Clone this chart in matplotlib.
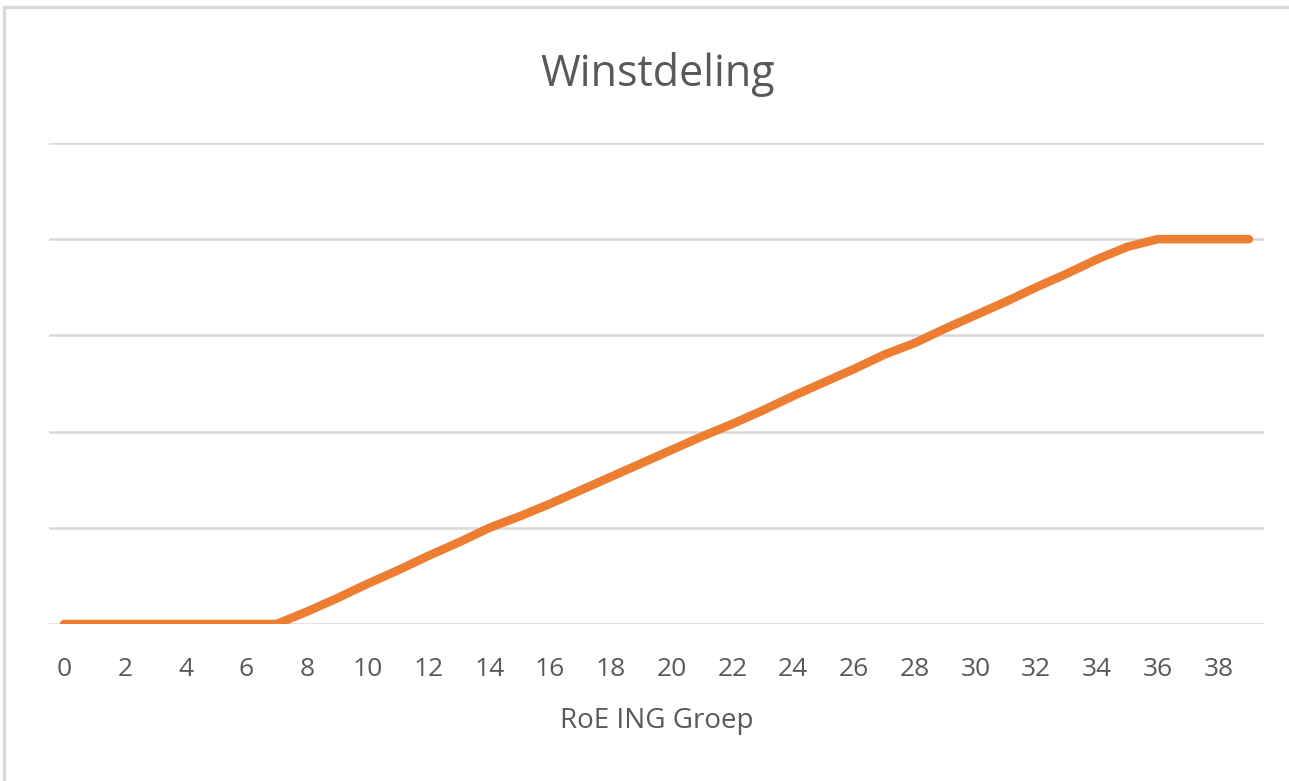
import matplotlib.pyplot as plt
from matplotlib.lines import Line2D

# RoE ING Groep (categories) and winstdeling values
roe = list(range(0, 40))
winst = [0, 0, 0, 0, 0, 0, 0, 0,
         0.13, 0.27, 0.42, 0.56, 0.71, 0.85, 1.00,
         1.12, 1.25, 1.39, 1.53, 1.67, 1.81, 1.95, 2.08,
         2.22, 2.37, 2.51, 2.65, 2.80, 2.92, 3.07, 3.21,
         3.35, 3.50, 3.64, 3.79, 3.92, 4.00, 4.00, 4.00, 4.00]
tick_labels = [str(v) for v in roe[::2]]

plt.rcParams['font.family'] = ['Open Sans', 'DejaVu Sans']
grey = '#595959'

fig = plt.figure(figsize=(12.89, 7.81), dpi=100)
ax = fig.add_axes([0.038, 0.201, 0.9426, 0.616])

ax.plot(roe, winst, color='#ED7D31', linewidth=6.2, solid_capstyle='round',
        solid_joinstyle='round', zorder=3)

ax.set_xlim(-0.5, 39.5)
ax.set_ylim(0, 5)
ax.set_yticks(range(0, 6))
ax.set_yticklabels([])
ax.set_xticks(roe[::2])
ax.set_xticklabels(tick_labels, fontsize=19, color=grey)
ax.tick_params(axis='both', length=0, pad=24)
ax.grid(axis='y', color='#d9d9d9', linewidth=1.8, zorder=0)
for s in ax.spines.values():
    s.set_visible(False)

ax.set_xlabel('RoE ING Groep', fontsize=20, color=grey, labelpad=18)
fig.text(0.51, 0.905, 'Winstdeling', ha='center', va='center', fontsize=31, color=grey)

# chart border (top and left visible)
fig.add_artist(Line2D([0.003, 1.0], [0.991, 0.991], color='#d9d9d9', linewidth=2.5,
                      transform=fig.transFigure))
fig.add_artist(Line2D([0.003, 0.003], [0.0, 0.991], color='#d9d9d9', linewidth=2.5,
                      transform=fig.transFigure))

fig.savefig('out.png', dpi=100)
